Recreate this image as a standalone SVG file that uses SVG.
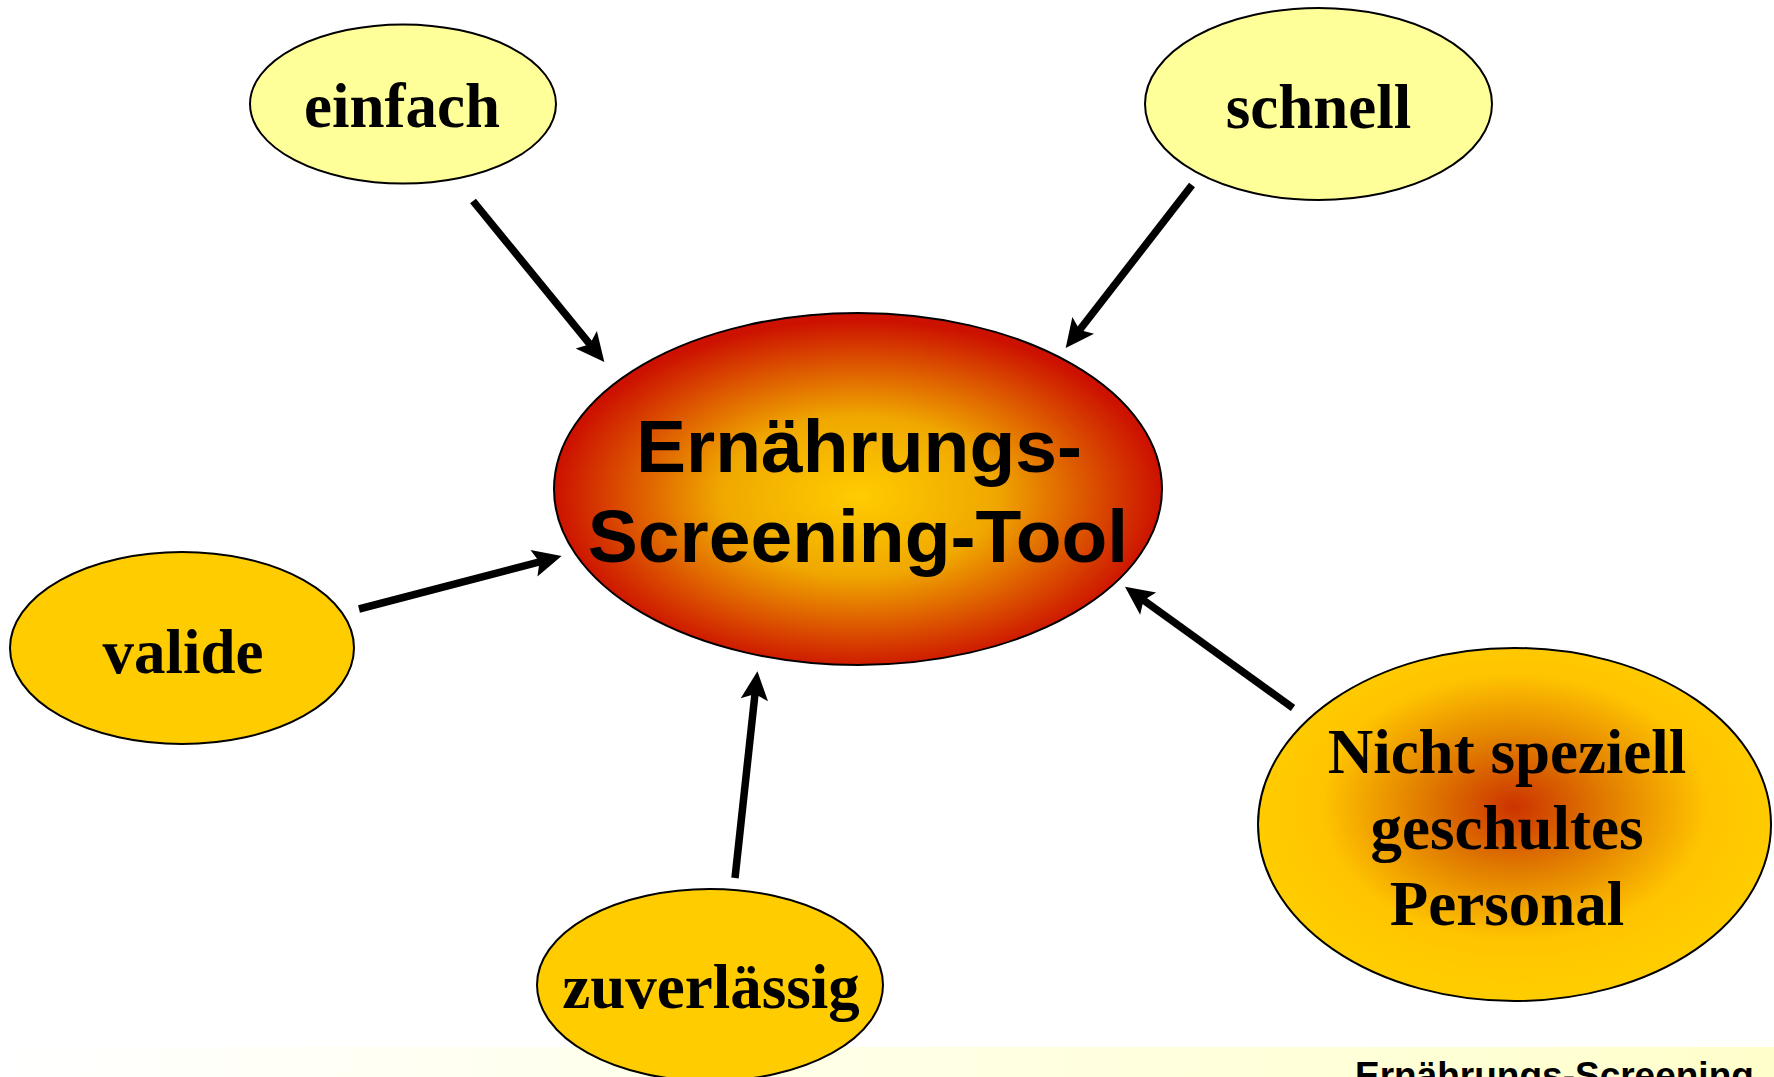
<svg xmlns="http://www.w3.org/2000/svg" width="1774" height="1077" viewBox="0 0 1774 1077">
  <defs>
    <radialGradient id="gCenter" cx="50%" cy="52%" r="50%">
      <stop offset="0" stop-color="#FFCC00"/>
      <stop offset="0.45" stop-color="#F0A800"/>
      <stop offset="1" stop-color="#CC1100"/>
    </radialGradient>
    <radialGradient id="gPersonal" cx="50%" cy="45%" r="50%">
      <stop offset="0" stop-color="#CC3300"/>
      <stop offset="0.35" stop-color="#E07A00"/>
      <stop offset="0.75" stop-color="#FFC400"/>
      <stop offset="1" stop-color="#FFCC00"/>
    </radialGradient>
    <linearGradient id="gBand" x1="0" y1="0" x2="1" y2="0">
      <stop offset="0" stop-color="#FFFFFF"/>
      <stop offset="1" stop-color="#FFFFCC"/>
    </linearGradient>
    <marker id="arrow" markerUnits="userSpaceOnUse" markerWidth="40" markerHeight="40" refX="0" refY="0" viewBox="-10 -15 35 30" orient="auto" overflow="visible">
      <path d="M-6,-12 L19,0 L-6,12 L-1,0 z" fill="#000"/>
    </marker>
  </defs>
  <style>
    .node { stroke: #000; stroke-width: 2; }
    .light { fill: #FFFF99; }
    .gold { fill: #FFCC00; }
    .serif { font-family: "Liberation Serif", "Times New Roman", serif; font-weight: bold; font-size: 63px; fill: #000; text-anchor: middle; }
    .sans { font-family: "Liberation Sans", Arial, sans-serif; font-weight: bold; font-size: 75px; fill: #000; text-anchor: middle; }
    .conn { stroke: #000; stroke-width: 7.5; fill: none; marker-end: url(#arrow); }
  </style>
  <rect x="0" y="0" width="1774" height="1077" fill="#FFFFFF"/>
  <g id="footer">
    <rect x="0" y="1047" width="1774" height="30" fill="url(#gBand)"/>
    <text x="1355" y="1088" font-family="Liberation Sans, Arial, sans-serif" font-weight="bold" font-size="37" fill="#000">Ernährungs-Screening</text>
  </g>
  <g id="connectors">
    <line class="conn" x1="473" y1="201" x2="590.6" y2="345.1"/>
    <line class="conn" x1="1192" y1="185" x2="1079" y2="330.8"/>
    <line class="conn" x1="359" y1="609" x2="540.6" y2="561.6"/>
    <line class="conn" x1="735" y1="878" x2="755.1" y2="692.9"/>
    <line class="conn" x1="1293" y1="708" x2="1142.6" y2="599.5"/>
  </g>
  <g id="node-center">
    <ellipse class="node" cx="858" cy="489" rx="304" ry="176" fill="url(#gCenter)"/>
    <text class="sans" x="859" y="472">Ernährungs-</text>
    <text class="sans" x="858" y="562">Screening-Tool</text>
  </g>
  <g id="node-einfach">
    <ellipse class="node light" cx="403" cy="104" rx="153" ry="79.5"/>
    <text class="serif" x="402" y="127">einfach</text>
  </g>
  <g id="node-schnell">
    <ellipse class="node light" cx="1318.5" cy="104" rx="173.5" ry="96"/>
    <text class="serif" x="1318.5" y="128">schnell</text>
  </g>
  <g id="node-valide">
    <ellipse class="node gold" cx="182" cy="648" rx="172" ry="96"/>
    <text class="serif" x="183" y="673">valide</text>
  </g>
  <g id="node-zuverlaessig">
    <ellipse class="node gold" cx="710" cy="985" rx="173" ry="96"/>
    <text class="serif" x="711" y="1008">zuverlässig</text>
  </g>
  <g id="node-personal">
    <ellipse class="node" cx="1514.5" cy="824.5" rx="256.5" ry="176.5" fill="url(#gPersonal)"/>
    <text class="serif" x="1507" y="773">Nicht speziell</text>
    <text class="serif" x="1507" y="849">geschultes</text>
    <text class="serif" x="1507" y="925">Personal</text>
  </g>
</svg>
